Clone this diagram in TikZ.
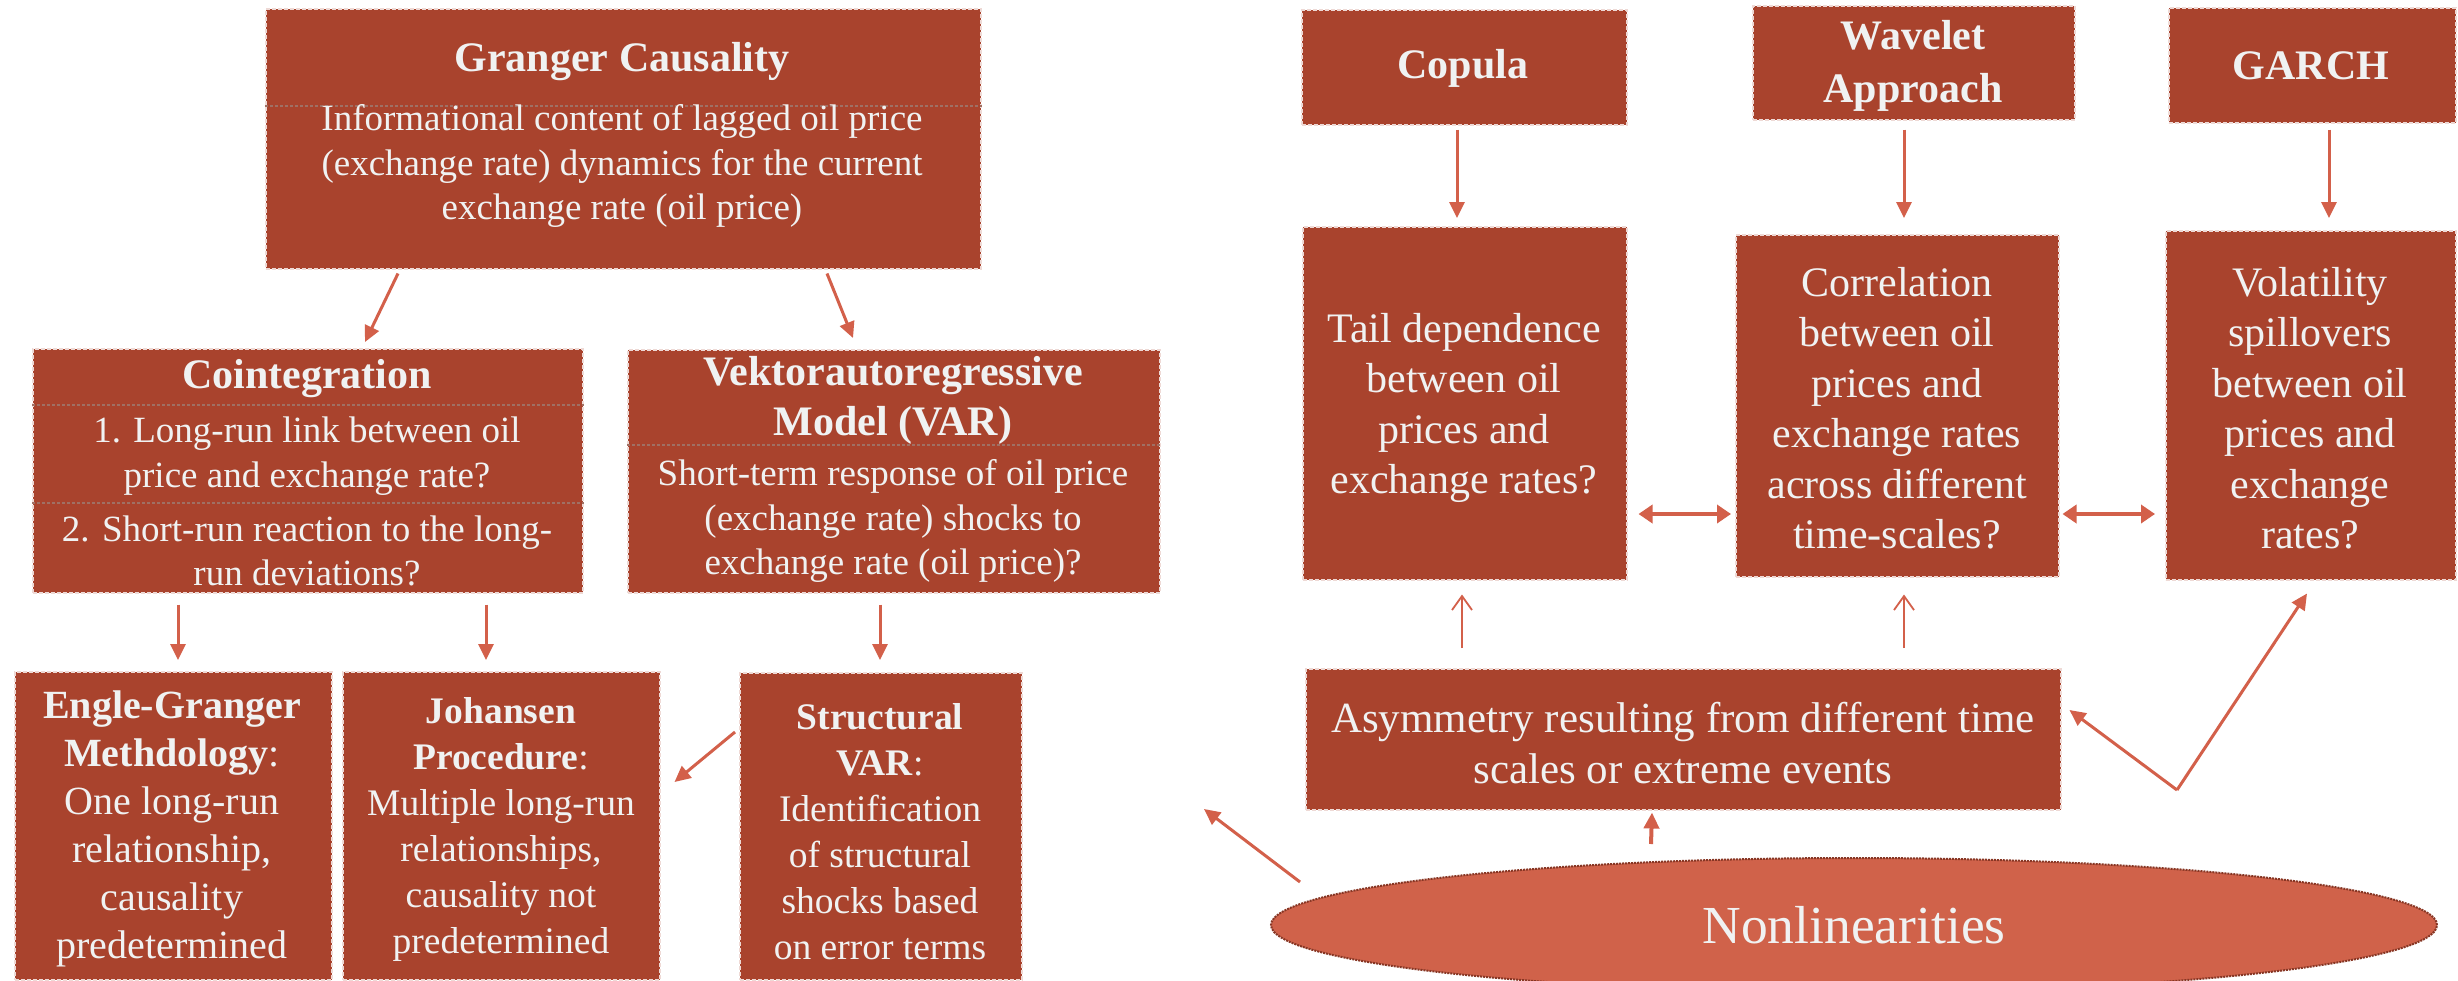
\documentclass[tikz,border=0pt]{standalone}
\usepackage{fontspec}
\setmainfont{Liberation Serif}
\usetikzlibrary{arrows.meta,shapes.geometric}
\definecolor{boxred}{RGB}{169,67,45}
\definecolor{ellred}{RGB}{208,98,74}
\definecolor{arrred}{RGB}{211,96,74}
\definecolor{txtw}{RGB}{240,242,242}
\definecolor{sepgray}{RGB}{160,112,100}
\newcommand\fBody{\fontsize{37}{44.5}\selectfont}
\newcommand\fTitle{\fontsize{42}{50}\selectfont\bfseries}
\newcommand\fLow{\fontsize{37.5}{46}\selectfont}
\newcommand\fLowEG{\fontsize{40}{48}\selectfont}
\newcommand\fRight{\fontsize{42}{50.5}\selectfont}
\newcommand\fRTitle{\fontsize{42}{53}\selectfont\bfseries}
\newcommand\fAsym{\fontsize{43}{51}\selectfont}
\newcommand\fNon{\fontsize{53.5}{60}\selectfont}
\tikzset{
  box/.style={draw=white!80!boxred, dash pattern=on 4pt off 2pt, line width=1.5pt, fill=boxred, inner sep=0pt, anchor=north west},
  txt/.style={text=txtw, align=center, inner sep=0pt},
  sepline/.style={draw=sepgray, dash pattern=on 3pt off 2pt, line width=1.2pt},
  arr/.style={draw=arrred, line width=3pt, -{Triangle[length=16pt,width=15pt]}},
  darr/.style={draw=arrred, line width=4.5pt, {Triangle[length=14pt,width=18pt]}-{Triangle[length=14pt,width=18pt]}},
  oarr/.style={draw=arrred, line width=1.8pt, -{Straight Barb[length=14pt,width=20pt]}},
  ell/.style={ellipse, draw=boxred!80!black, dash pattern=on 2pt off 1pt, line width=2pt, fill=ellred, inner sep=0pt, text=txtw},
}
\begin{document}
\begin{tikzpicture}[x=1pt,y=-1pt]
\useasboundingbox (0,0) rectangle (2458,980);
\fill[white] (0,0) rectangle (2458,980);
% ---- boxes left
\node[box, minimum width=715pt, minimum height=260pt] (granger) at (265,8) {};
\node[box, minimum width=550pt, minimum height=244pt] (coint) at (32,348) {};
\node[box, minimum width=532pt, minimum height=243pt] (var) at (627,349) {};
\node[box, minimum width=317pt, minimum height=308pt] (eg) at (14,671) {};
\node[box, minimum width=317pt, minimum height=308pt] (joh) at (342,671) {};
\node[box, minimum width=282pt, minimum height=307pt] (str) at (739,672) {};
% ---- boxes right
\node[box, minimum width=325pt, minimum height=115pt] (copula) at (1301,9) {};
\node[box, minimum width=322pt, minimum height=114pt] (wavelet) at (1752,5) {};
\node[box, minimum width=287pt, minimum height=115pt] (garch) at (2168,7) {};
\node[box, minimum width=324pt, minimum height=353pt] (tail) at (1302,226) {};
\node[box, minimum width=323pt, minimum height=342pt] (corr) at (1735,234) {};
\node[box, minimum width=290pt, minimum height=349pt] (vol) at (2165,230) {};
\node[box, minimum width=755pt, minimum height=141pt] (asym) at (1305,668) {};
\node[ell, minimum width=1166pt, minimum height=134pt, font=\fNon] (nonlin) at (1854,925) {Nonlinearities};
% ---- separators
\draw[sepline] ([yshift=-98pt]granger.north west) -- ([yshift=-98pt]granger.north east);
\draw[sepline] ([yshift=-57pt]coint.north west) -- ([yshift=-57pt]coint.north east);
\draw[sepline] ([yshift=-155pt]coint.north west) -- ([yshift=-155pt]coint.north east);
\draw[sepline] ([yshift=-96pt]var.north west) -- ([yshift=-96pt]var.north east);
% ---- texts
\node[txt, font=\fTitle] (grangerT) at (622,62) {Granger Causality};
\node[txt, font=\fBody] (grangerB) at (622,166) {Informational content of lagged oil price\\(exchange rate) dynamics for the current\\exchange rate (oil price)};
\node[txt, font=\fTitle] (cointT) at (307,379) {Cointegration};
\node[txt, font=\fBody] (cointB1) at (307,456) {1. Long-run link between oil\\price and exchange rate?};
\node[txt, font=\fBody] (cointB2) at (307,551) {2. Short-run reaction to the long-\\run deviations?};
\node[txt, font=\fTitle] (varT) at (893,400) {Vektorautoregressive\\Model (VAR)};
\node[txt, font=\fBody] (varB) at (893,521) {Short-term response of oil price\\(exchange rate) shocks to\\exchange rate (oil price)?};
\node[txt, font=\fLowEG] (egT) at (172,829) {\textbf{Engle-Granger}\\\textbf{Methdology}:\\One long-run\\relationship,\\causality\\predetermined};
\node[txt, font=\fLow] (johT) at (501,829) {\textbf{Johansen}\\\textbf{Procedure}:\\Multiple long-run\\relationships,\\causality not\\predetermined};
\node[txt, font=\fLow] (strT) at (880,832) {\textbf{Structural}\\\textbf{VAR}:\\Identification\\of structural\\shocks based\\on error terms};
\node[txt, font=\fRTitle] (copulaT) at (1463,68) {Copula};
\node[txt, font=\fRTitle] (waveletT) at (1913,66) {Wavelet\\Approach};
\node[txt, font=\fRTitle] (garchT) at (2311,66) {GARCH};
\node[txt, font=\fRight] (tailT) at (1464,408) {Tail dependence\\between oil\\prices and\\exchange rates?};
\node[txt, font=\fRight] (corrT) at (1897,408) {Correlation\\between oil\\prices and\\exchange rates\\across different\\time-scales?};
\node[txt, font=\fRight] (volT) at (2310,408) {Volatility\\spillovers\\between oil\\prices and\\exchange\\rates?};
\node[txt, font=\fAsym] (asymT) at (1683,743) {Asymmetry resulting from different time\\scales or extreme events};
% ---- arrows left
\draw[arr] ([xshift=133pt,yshift=-4pt]granger.south west) -- ([xshift=333pt,yshift=6pt]coint.north west);
\draw[arr] ([xshift=562pt,yshift=-4pt]granger.south west) -- ([xshift=226pt,yshift=11pt]var.north west);
\draw[arr] ([xshift=146pt,yshift=-11pt]coint.south west) -- ([xshift=164pt,yshift=11pt]eg.north west);
\draw[arr] ([xshift=454pt,yshift=-11pt]coint.south west) -- ([xshift=144pt,yshift=11pt]joh.north west);
\draw[arr] ([xshift=253pt,yshift=-11pt]var.south west) -- ([xshift=141pt,yshift=12pt]str.north west);
\draw[arr] ([xshift=-4pt,yshift=-60pt]str.north west) -- ([xshift=14pt,yshift=-111pt]joh.north east);
% ---- arrows right
\draw[arr] ([xshift=156pt,yshift=-4pt]copula.south west) -- ([xshift=155pt,yshift=8pt]tail.north west);
\draw[arr] ([xshift=152pt,yshift=-9pt]wavelet.south west) -- ([xshift=169pt,yshift=16pt]corr.north west);
\draw[arr] ([xshift=161pt,yshift=-6pt]garch.south west) -- ([xshift=164pt,yshift=12pt]vol.north west);
\draw[darr] ([xshift=11pt,yshift=-288pt]tail.north east) -- ([xshift=-4pt,yshift=-280pt]corr.north west);
\draw[darr] ([xshift=3pt,yshift=-280pt]corr.north east) -- ([xshift=-10pt,yshift=-284pt]vol.north west);
\draw[oarr] ([xshift=157pt,yshift=20pt]asym.north west) -- ([xshift=160pt,yshift=-14pt]tail.south west);
\draw[oarr] ([xshift=599pt,yshift=20pt]asym.north west) -- ([xshift=169pt,yshift=-17pt]corr.south west);
\coordinate (vtx) at (2177,790);
\draw[arr] (vtx) -- ([xshift=8pt,yshift=-42pt]asym.north east);
\draw[arr] (vtx) -- ([xshift=142pt,yshift=-13pt]vol.south west);
\draw[arr, line width=4pt] ([xshift=-203pt,yshift=13pt]nonlin.north) -- ([xshift=347pt,yshift=-2pt]asym.south west);
\coordinate (lfree) at (1204,809);
\draw[arr] ([xshift=30pt,yshift=43pt]nonlin.west) -- (lfree);
\end{tikzpicture}
\end{document}
